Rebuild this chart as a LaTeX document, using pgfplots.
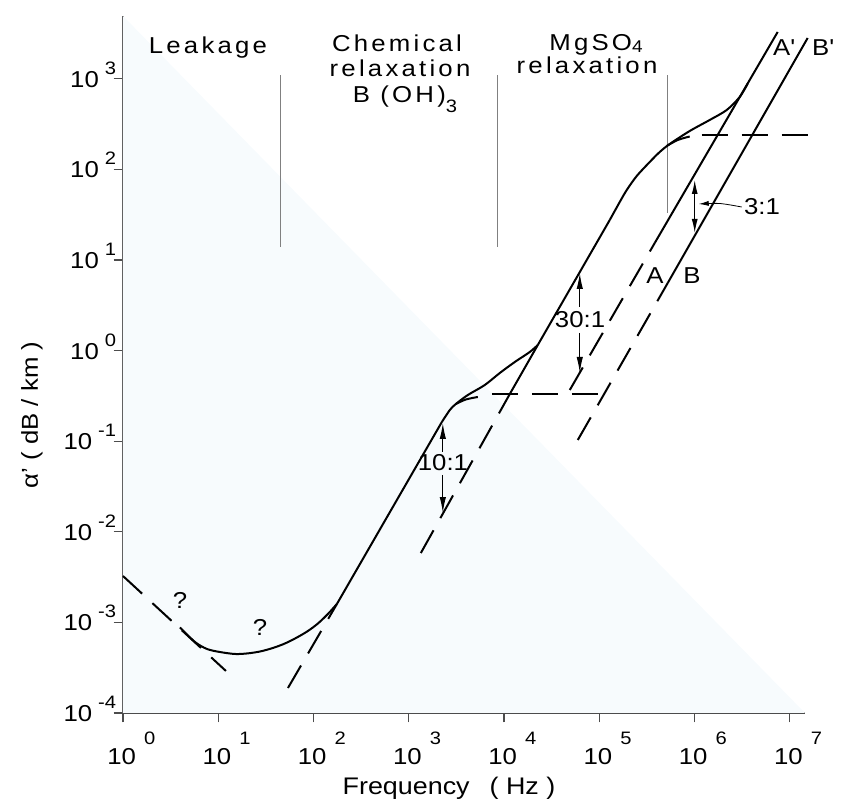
\documentclass[border=0pt]{standalone}
\usepackage{fontspec}
\setmainfont{Liberation Sans}[FakeStretch=1.12]
\newfontfamily\spaced{Liberation Sans}[FakeStretch=1.12, LetterSpace=14]
\usepackage{pgfplots}
\pgfplotsset{compat=1.18}
\usetikzlibrary{arrows.meta}

\definecolor{tint}{RGB}{247,251,253}
\newcommand{\xl}[1]{10\hspace{4pt}\raisebox{10pt}{\fontsize{9}{10}\selectfont #1}}
\newcommand{\yl}[1]{10\hspace{3pt}\raisebox{6.5pt}{\fontsize{9}{10}\selectfont #1}}
\newcommand{\lbl}{\fontsize{11.5}{13.8}\selectfont}

\begin{document}
\begin{tikzpicture}
\begin{axis}[
    scale only axis,
    width=341pt, height=348.5pt,
    xmode=log, ymode=log,
    xmin=1, xmax=1.445e7,
    ymin=1e-4, ymax=4932,
    axis lines=left,
    axis line style={-, black!70, line width=0.8pt},
    tick style={black!70, line width=0.6pt},
    tick align=outside,
    major tick length=4.75pt,
    xminorticks=false, yminorticks=false,
    xtick={1,10,100,1000,1e4,1e5,1e6,1e7},
    xticklabels={\xl{0},\xl{1},\xl{2},\xl{3},\xl{4},\xl{5},\xl{6},\xl{7}},
    ytick={1e-4,1e-3,1e-2,1e-1,1,10,100,1000},
    yticklabels={\yl{-4},\yl{-3},\yl{-2},\yl{-1},\yl{0},\yl{1},\yl{2},\yl{3}},
    tick label style={font=\lbl},
    xticklabel style={anchor=base west, inner sep=0pt, xshift=-8pt, yshift=-21pt},
    yticklabel style={anchor=base east, inner sep=0pt, xshift=1.5pt, yshift=-4.3pt},
    xlabel={Frequency\hspace{10pt}( Hz )},
    xlabel style={at={(axis description cs:0.478,-0.1176)}, anchor=base, font=\fontsize{12}{14}\selectfont},
    ylabel={α'\ (\ dB\ /\ km\ )},
    ylabel style={at={(axis description cs:-0.1334,0.4275)}, anchor=center, rotate=0, font=\fontsize{11.5}{14}\selectfont},
    clip=false,
    every axis plot/.append style={black, line width=1pt, mark=none},
]

% faint background tint
\fill[tint] (rel axis cs:0,1) -- (rel axis cs:0,0) -- (rel axis cs:1,0) -- cycle;

% region separators
\addplot[gray, line width=0.5pt] coordinates {(45.5,13.92) (45.5,1101)};
\addplot[gray, line width=0.5pt] coordinates {(8610,13.92) (8610,1101)};
\addplot[gray, line width=0.5pt] coordinates {(5.234e5,33.03) (5.234e5,1101)};

% leakage asymptote
\addplot[dash pattern=on 13pt off 7pt] coordinates {(1,3.25e-3) (12.04,2.91e-4)};

% total absorption
\addplot[smooth] coordinates {
    (3.96,8.79e-4) (5.69,6.08e-4) (7.61,5.09e-4) (10.42,4.71e-4) (14.97,4.48e-4)
    (20.0,4.54e-4) (27.4,4.77e-4) (37.5,5.22e-4) (50.1,5.85e-4) (66.9,6.81e-4)
    (87.4,8.04e-4) (111.2,9.72e-4) (141.6,1.238e-3) (176.0,1.596e-3)
};
\addplot[solid] coordinates {(176.0,1.596e-3) (2225,0.1628)};
\addplot[smooth] coordinates {
    (2225,0.1628) (2700,0.2211) (3121,0.2574) (4170,0.3235) (6287,0.4172)
    (9036,0.5661) (12980,0.7484) (18650,0.965) (22630,1.153)
};
\addplot[solid] coordinates {(22630,1.153) (1.289e5,27.64)};
\addplot[smooth] coordinates {
    (1.289e5,27.64) (1.641e5,43.68) (1.944e5,59.24) (2.475e5,84.6) (3.388e5,120.7)
    (4.313e5,155.6) (5.494e5,190.7) (8.906e5,265.3) (1.444e6,351.1) (2.177e6,452.4)
    (2.981e6,629.7) (3.615e6,885)
};

% boric acid relaxation
\addplot[dash pattern=on 13pt off 7pt] coordinates {(53.9,1.888e-4) (176.0,1.596e-3)};
\addplot[smooth] coordinates {(3121,0.2574) (3975,0.2886) (5311,0.3076)};
\addplot[dash pattern=on 13pt off 7pt] coordinates {(7447,0.3319) (1.062e5,0.3319)};

% MgSO4 relaxation
\addplot[dash pattern=on 13pt off 7pt] coordinates {(1339,5.83e-3) (11505,0.3319)};
\addplot[solid] coordinates {(11505,0.3319) (22630,1.153)};
\addplot[smooth] coordinates {(5.109e5,181.3) (6.663e5,211.1) (8.906e5,230.7)};
\addplot[dash pattern=on 13pt off 7pt] coordinates {(1.190e6,239.7) (1.697e7,239.7)};

% pure water lines A and B
\addplot[dash pattern=on 13pt off 7pt] coordinates {(49030,0.3674) (3.823e5,15.40)};
\addplot[solid] coordinates {(3.823e5,15.40) (7.464e6,3286)};
\addplot[dash pattern=on 13pt off 7pt] coordinates {(59500,0.1031) (5.234e5,5.573)};
\addplot[solid] coordinates {(5.234e5,5.573) (1.541e7,2820)};

% ratio arrows
\addplot[line width=0.6pt, -{Latex[length=8pt,width=3.2pt]}] coordinates {(2279,0.0760) (2279,0.1588)};
\addplot[line width=0.6pt, -{Latex[length=8pt,width=3.2pt]}] coordinates {(2279,0.04235) (2279,0.01612)};
\addplot[line width=0.6pt, -{Latex[length=8pt,width=3.2pt]}] coordinates {(62430,3.028) (62430,7.19)};
\addplot[line width=0.6pt, -{Latex[length=8pt,width=3.2pt]}] coordinates {(62430,1.564) (62430,0.5661)};
\addplot[line width=0.6pt, -{Latex[length=7pt,width=3pt]}] coordinates {(1.005e6,41.5) (1.005e6,76.4)};
\addplot[line width=0.6pt, -{Latex[length=7pt,width=3pt]}] coordinates {(1.005e6,41.5) (1.005e6,19.86)};
\addplot[line width=0.4pt, smooth, -{Latex[length=5pt,width=2.5pt]}] coordinates {(3.128e6,38.46) (1.839e6,42.03) (1.107e6,41.5)};

% texts
\node[font=\lbl, anchor=base] at (rel axis cs:0.1246,0.9469) {\spaced Leakage};
\node[font=\lbl, anchor=base] at (rel axis cs:0.4018,0.9484) {\spaced Chemical};
\node[font=\lbl, anchor=base] at (rel axis cs:0.4062,0.9125) {\spaced relaxation};
\node[font=\lbl, anchor=base] at (rel axis cs:0.4135,0.8752) {\spaced B (OH)\raisebox{-5pt}{\fontsize{9}{10}\selectfont 3}};
\node[font=\lbl, anchor=base] at (rel axis cs:0.6935,0.9512) {\spaced MgSO\raisebox{-1pt}{\fontsize{8.5}{10}\selectfont 4}};
\node[font=\lbl, anchor=base] at (rel axis cs:0.6804,0.9182) {\spaced relaxation};

\node[font=\lbl] at (rel axis cs:0.0836,0.1621) {?};
\node[font=\lbl] at (rel axis cs:0.2009,0.1220) {?};
\node[font=\lbl, inner sep=0.5pt] at (rel axis cs:0.4692,0.3587) {10:1};
\node[font=\lbl, inner sep=0.5pt] at (rel axis cs:0.6701,0.5638) {30:1};
\node[font=\lbl] at (rel axis cs:0.9370,0.7260) {3:1};
\node[font=\lbl] at (rel axis cs:0.7801,0.6270) {A};
\node[font=\lbl] at (rel axis cs:0.8343,0.6270) {B};
\node[font=\lbl] at (rel axis cs:0.9692,0.9541) {A\textquotesingle};
\node[font=\lbl] at (rel axis cs:1.0264,0.9541) {B\textquotesingle};
\end{axis}
\pgfresetboundingbox
\path ([shift={(-61.5pt,-44pt)}]current axis.south west) rectangle ([shift={(29pt,8pt)}]current axis.north east);
\end{tikzpicture}
\end{document}
